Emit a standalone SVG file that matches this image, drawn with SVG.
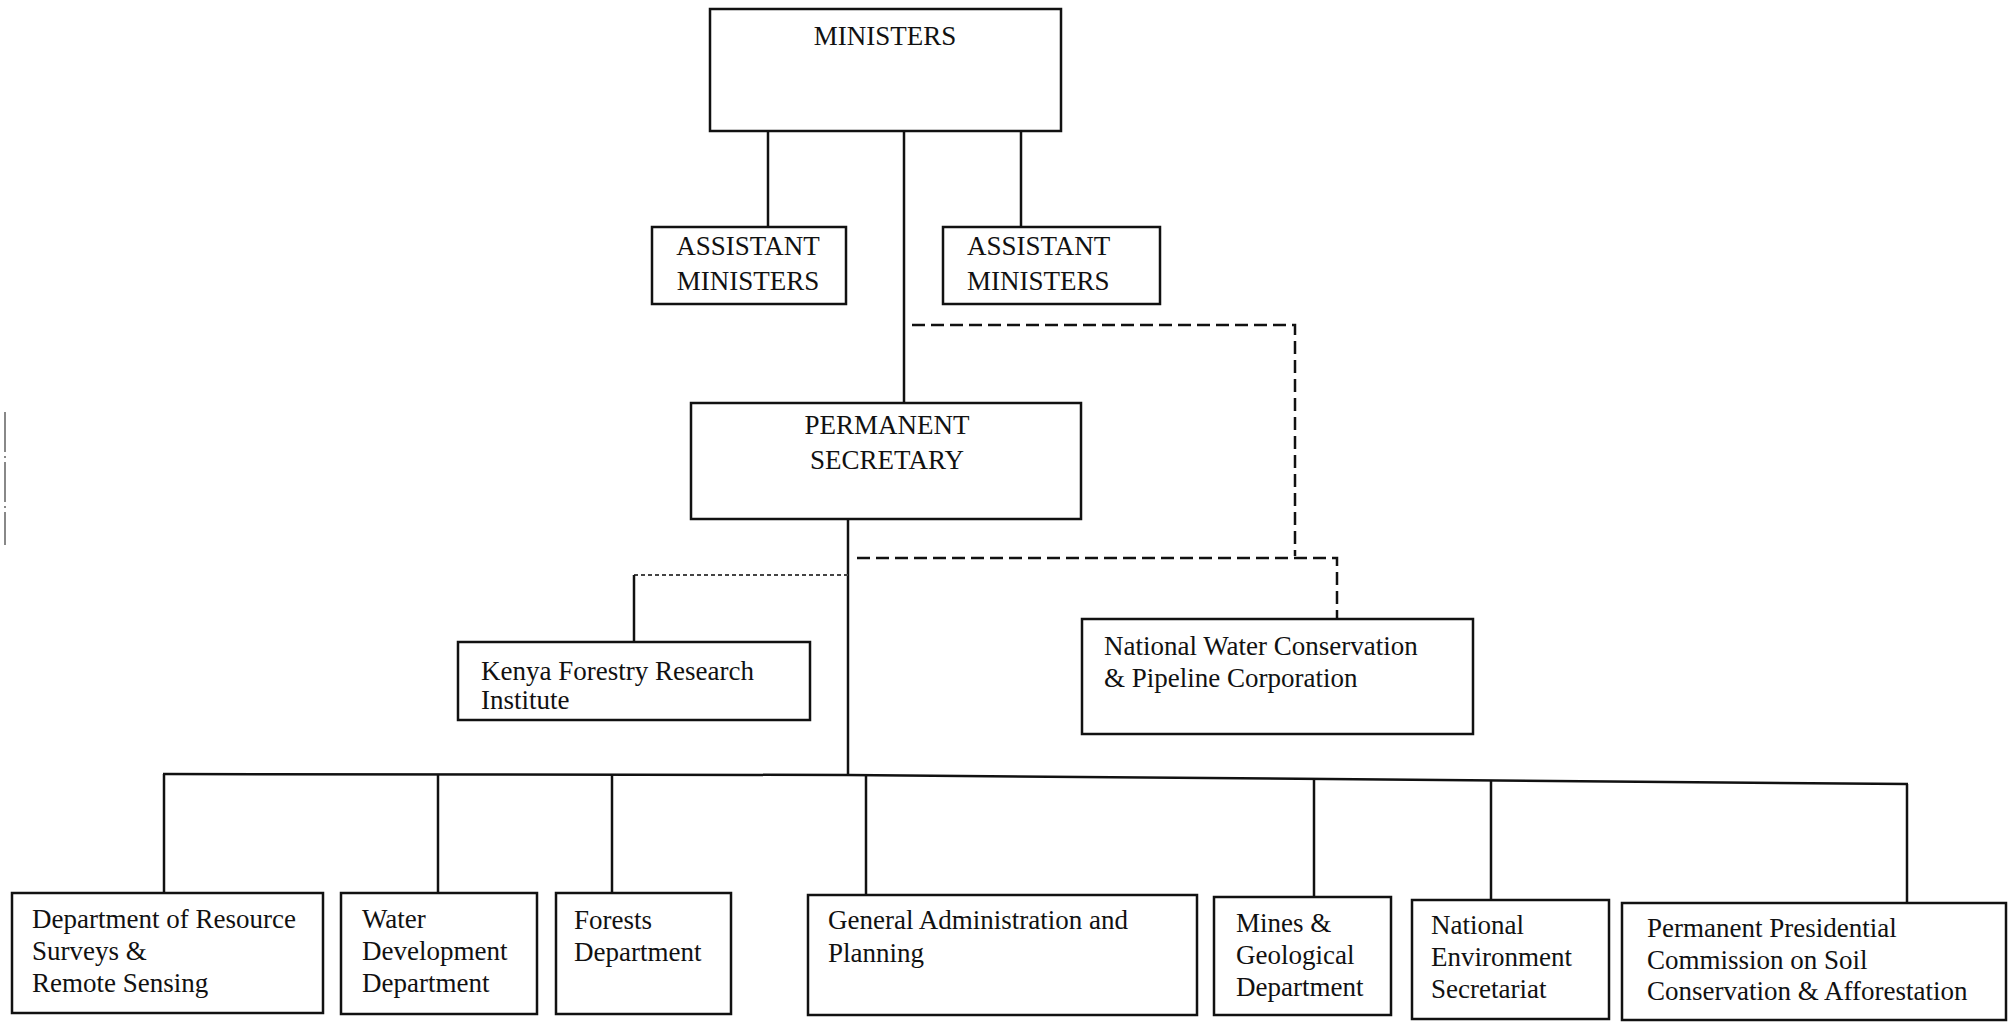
<svg xmlns="http://www.w3.org/2000/svg" width="2014" height="1022" viewBox="0 0 2014 1022">
<style>
.box{fill:#fff;stroke:#111;stroke-width:2.5}
.t{font-family:"Liberation Serif","Times New Roman",serif;font-size:27px;fill:#111}
.c{font-family:"Liberation Serif","Times New Roman",serif;font-size:27px;fill:#111}
.ln{stroke:#111;stroke-width:2.5;fill:none}
.ds{stroke:#111;stroke-width:2.5;fill:none;stroke-dasharray:13 6}
.dt{stroke:#444;stroke-width:2;fill:none;stroke-dasharray:4 3}
</style>
<rect width="2014" height="1022" fill="#fff"/>
<line x1="5" y1="412" x2="5" y2="545" stroke="#888" stroke-width="2" stroke-dasharray="40 4 2 4"/>
<g id="connectors">
<line class="ln" x1="768" y1="131" x2="768" y2="227"/>
<line class="ln" x1="1021" y1="131" x2="1021" y2="227"/>
<line class="ln" x1="904" y1="131" x2="904" y2="403"/>
<polyline class="ds" points="912,325 1295,325 1295,556"/>
<line class="ln" x1="848" y1="519" x2="848" y2="775"/>
<polyline class="ds" points="857,558 1337,558 1337,619"/>
<line class="dt" x1="634" y1="575" x2="848" y2="575"/>
<line class="ln" x1="634" y1="575" x2="634" y2="642" stroke-width="2"/>
<polyline class="ln" points="163,774 848,775 1908,784"/>
<line class="ln" x1="164" y1="774" x2="164" y2="893"/>
<line class="ln" x1="438" y1="774" x2="438" y2="893"/>
<line class="ln" x1="612" y1="775" x2="612" y2="893"/>
<line class="ln" x1="866" y1="775" x2="866" y2="895"/>
<line class="ln" x1="1314" y1="779" x2="1314" y2="897"/>
<line class="ln" x1="1491" y1="781" x2="1491" y2="900"/>
<line class="ln" x1="1907" y1="784" x2="1907" y2="903"/>
</g>
<g id="ministers">
<rect class="box" x="710" y="9" width="351" height="122"/>
<text class="c" x="885" y="45" text-anchor="middle">MINISTERS</text>
</g>
<g id="assistant-ministers-1">
<rect class="box" x="652" y="227" width="194" height="77"/>
<text class="c" x="748" y="255" text-anchor="middle">ASSISTANT</text>
<text class="c" x="748" y="290" text-anchor="middle">MINISTERS</text>
</g>
<g id="assistant-ministers-2">
<rect class="box" x="943" y="227" width="217" height="77"/>
<text class="c" x="967" y="255">ASSISTANT</text>
<text class="c" x="967" y="290">MINISTERS</text>
</g>
<g id="permanent-secretary">
<rect class="box" x="691" y="403" width="390" height="116"/>
<text class="c" x="887" y="434" text-anchor="middle">PERMANENT</text>
<text class="c" x="887" y="469" text-anchor="middle">SECRETARY</text>
</g>
<g id="kenya-forestry">
<rect class="box" x="458" y="642" width="352" height="78"/>
<text class="t" x="481" y="680">Kenya Forestry Research</text>
<text class="t" x="481" y="709">Institute</text>
</g>
<g id="national-water">
<rect class="box" x="1082" y="619" width="391" height="115"/>
<text class="t" x="1104" y="655">National Water Conservation</text>
<text class="t" x="1104" y="687">&amp; Pipeline Corporation</text>
</g>
<g id="resource-surveys">
<rect class="box" x="12" y="893" width="311" height="120"/>
<text class="t" x="32" y="928">Department of Resource</text>
<text class="t" x="32" y="960">Surveys &amp;</text>
<text class="t" x="32" y="992">Remote Sensing</text>
</g>
<g id="water-development">
<rect class="box" x="341" y="893" width="196" height="121"/>
<text class="t" x="362" y="928">Water</text>
<text class="t" x="362" y="960">Development</text>
<text class="t" x="362" y="992">Department</text>
</g>
<g id="forests">
<rect class="box" x="556" y="893" width="175" height="121"/>
<text class="t" x="574" y="929">Forests</text>
<text class="t" x="574" y="961">Department</text>
</g>
<g id="general-administration">
<rect class="box" x="808" y="895" width="389" height="120"/>
<text class="t" x="828" y="929">General Administration and</text>
<text class="t" x="828" y="962">Planning</text>
</g>
<g id="mines-geological">
<rect class="box" x="1214" y="897" width="177" height="118"/>
<text class="t" x="1236" y="932">Mines &amp;</text>
<text class="t" x="1236" y="964">Geological</text>
<text class="t" x="1236" y="996">Department</text>
</g>
<g id="national-environment">
<rect class="box" x="1412" y="900" width="197" height="119"/>
<text class="t" x="1431" y="934">National</text>
<text class="t" x="1431" y="966">Environment</text>
<text class="t" x="1431" y="998">Secretariat</text>
</g>
<g id="presidential-commission">
<rect class="box" x="1622" y="903" width="384" height="117"/>
<text class="t" x="1647" y="937">Permanent Presidential</text>
<text class="t" x="1647" y="969">Commission on Soil</text>
<text class="t" x="1647" y="1000">Conservation &amp; Afforestation</text>
</g>
</svg>
